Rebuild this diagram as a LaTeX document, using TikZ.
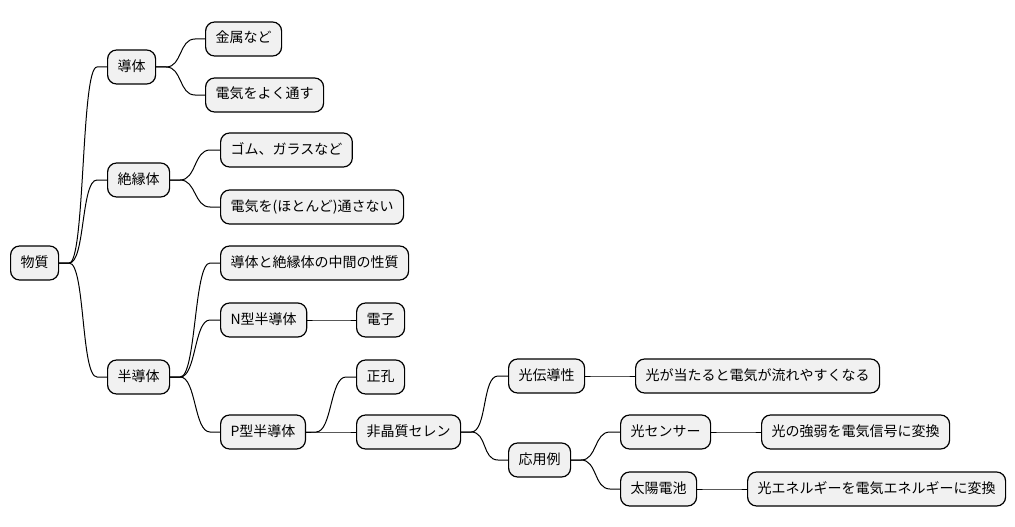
\documentclass[tikz,border=0pt]{standalone}
\usepackage{fontspec}
\setmainfont{Noto Sans CJK JP}
\usepackage{tikz}
\definecolor{boxgray}{HTML}{F1F1F1}
\tikzset{
    topic/.style={draw=black, line width=1.2pt, fill=boxgray, rounded corners=9pt,
        anchor=west, inner xsep=10pt, inner ysep=0pt, minimum height=34pt,
        text height=11pt, text depth=3pt, font=\fontsize{14}{16}\selectfont},
    branch/.style={to path={-- ++(10,0) .. controls +(16,0) and +(-16,0) .. ([xshift=-10pt]\tikztotarget) -- (\tikztotarget)}}
}

\begin{document}
\begin{tikzpicture}[x=1pt, y=-1pt, line width=1pt]
        \useasboundingbox (0,0) rectangle (1015,527);
        \node[topic] (busshitsu) at (10,263) {物質};
        \node[topic] (doutai) at (107,67) {導体};
        \node[topic] (kinzoku) at (205,39) {金属など};
        \node[topic] (yokutoosu) at (205,95) {電気をよく通す};
        \node[topic] (zetsuen) at (107,180) {絶縁体};
        \node[topic] (gomu) at (220,150) {ゴム、ガラスなど};
        \node[topic] (toosanai) at (220,207) {電気を(ほとんど)通さない};
        \node[topic] (handoutai) at (107,377) {半導体};
        \node[topic] (chuukan) at (220,263) {導体と絶縁体の中間の性質};
        \node[topic] (ngata) at (220,320) {N型半導体};
        \node[topic] (denshi) at (356,320) {電子};
        \node[topic] (pgata) at (220,432) {P型半導体};
        \node[topic] (seikou) at (356,377) {正孔};
        \node[topic] (selen) at (356,432) {非晶質セレン};
        \node[topic] (koudendou) at (508,376) {光伝導性};
        \node[topic] (nagare) at (635,376) {光が当たると電気が流れやすくなる};
        \node[topic] (ouyou) at (508,460) {応用例};
        \node[topic] (sensor) at (620,432) {光センサー};
        \node[topic] (kyoujaku) at (761,432) {光の強弱を電気信号に変換};
        \node[topic] (taiyou) at (620,489) {太陽電池};
        \node[topic] (energy) at (747,489) {光エネルギーを電気エネルギーに変換};

        \draw (busshitsu.east) to[branch] (doutai.west);
        \draw (busshitsu.east) to[branch] (zetsuen.west);
        \draw (busshitsu.east) to[branch] (handoutai.west);
        \draw (doutai.east) to[branch] (kinzoku.west);
        \draw (doutai.east) to[branch] (yokutoosu.west);
        \draw (zetsuen.east) to[branch] (gomu.west);
        \draw (zetsuen.east) to[branch] (toosanai.west);
        \draw (handoutai.east) to[branch] (chuukan.west);
        \draw (handoutai.east) to[branch] (ngata.west);
        \draw (handoutai.east) to[branch] (pgata.west);
        \draw (ngata.east) to[branch] (denshi.west);
        \draw (pgata.east) to[branch] (seikou.west);
        \draw (pgata.east) to[branch] (selen.west);
        \draw (selen.east) to[branch] (koudendou.west);
        \draw (selen.east) to[branch] (ouyou.west);
        \draw (koudendou.east) to[branch] (nagare.west);
        \draw (ouyou.east) to[branch] (sensor.west);
        \draw (ouyou.east) to[branch] (taiyou.west);
        \draw (sensor.east) to[branch] (kyoujaku.west);
        \draw (taiyou.east) to[branch] (energy.west);
    \end{tikzpicture}
\end{document}
